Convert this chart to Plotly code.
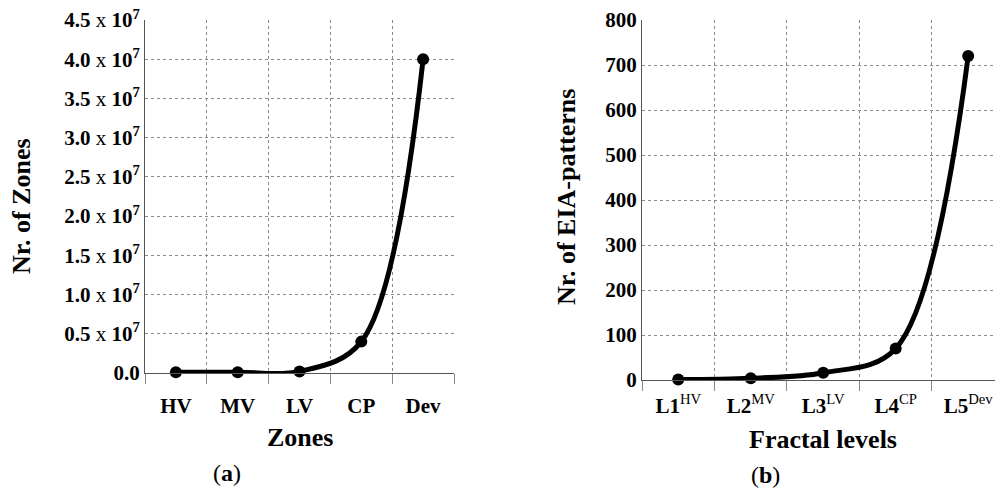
import plotly.graph_objects as go

# ---- data ----
zones = ["HV", "MV", "LV", "CP", "Dev"]
zones_counts = [1.0e5, 1.0e5, 2.0e5, 4.0e6, 4.0e7]

levels = ["L1", "L2", "L3", "L4", "L5"]
level_sups = ["HV", "MV", "LV", "CP", "Dev"]
eia_counts = [1, 4, 16, 70, 720]

left_tickvals = [0, 0.5e7, 1.0e7, 1.5e7, 2.0e7, 2.5e7, 3.0e7, 3.5e7, 4.0e7, 4.5e7]
left_ticktext = ["<b>0.0</b>"] + [
    "<b>%.1f</b> x <b>10<sup>7</sup></b>" % (v / 1e7) for v in left_tickvals[1:]
]
right_tickvals = [0, 100, 200, 300, 400, 500, 600, 700, 800]
right_ticktext = ["<b>%d</b>" % v for v in right_tickvals]

FONT = "Liberation Serif"
W, H = 995, 488

def px_x(x):
    return x / W

def px_y(y):
    return 1 - y / H

fig = go.Figure()

line_style = dict(color="black", width=5, shape="spline", smoothing=1)
marker_style = dict(color="black", size=12)

fig.add_trace(go.Scatter(x=zones, y=zones_counts, mode="lines+markers",
                         line=line_style, marker=marker_style,
                         cliponaxis=False, xaxis="x", yaxis="y",
                         showlegend=False))
fig.add_trace(go.Scatter(x=levels, y=eia_counts, mode="lines+markers",
                         line=line_style, marker=marker_style,
                         cliponaxis=False, xaxis="x2", yaxis="y2",
                         showlegend=False))

grid = dict(showgrid=True, gridcolor="#8a8a8a", griddash="dot", gridwidth=1)
xcommon = dict(type="category", tickson="boundaries", ticks="outside",
               ticklen=10, tickcolor="#8a8a8a", tickwidth=1,
               showline=True, linecolor="#555555", linewidth=1,
               zeroline=False, automargin=False,
               tickfont=dict(family=FONT, size=21, color="black"),
               **grid)
ycommon = dict(showline=True, linecolor="#555555", linewidth=1, ticks="",
               zeroline=False, automargin=False,
               tickfont=dict(family=FONT, size=21, color="black"),
               **grid)

fig.update_layout(
    width=W, height=H,
    margin=dict(l=0, r=0, t=0, b=0, autoexpand=False),
    paper_bgcolor="white", plot_bgcolor="white",
    font=dict(family=FONT, color="black"),
    xaxis=dict(domain=[px_x(145), px_x(454)], range=[-0.5, 4.5], anchor="y",
               ticktext=[f"<b>{z}</b>" for z in zones], tickvals=zones,
               ticklabelstandoff=14, **xcommon),
    yaxis=dict(domain=[px_y(373), px_y(20)], range=[0, 4.5e7], anchor="x",
               tickvals=left_tickvals, ticktext=left_ticktext, **ycommon),
    xaxis2=dict(domain=[px_x(642), 1.0], range=[-0.5, 4.37], anchor="y2",
                ticktext=[f"<b>{l}</b><sup>{s}</sup>" for l, s in zip(levels, level_sups)],
                tickvals=levels, ticklabelstandoff=7, **xcommon),
    yaxis2=dict(domain=[px_y(380), px_y(20)], range=[0, 800], anchor="x2",
                tickvals=right_tickvals, ticktext=right_ticktext, **ycommon),
)

ann = [
    dict(text="<b>Nr. of Zones</b>", x=px_x(21), y=px_y(206), textangle=-90, size=26),
    dict(text="<b>Zones</b>", x=px_x(300), y=px_y(437), textangle=0, size=26),
    dict(text="(<b>a</b>)", x=px_x(227), y=px_y(473), textangle=0, size=24),
    dict(text="<b>Nr. of EIA-patterns</b>", x=px_x(566), y=px_y(197), textangle=-90, size=26),
    dict(text="<b>Fractal levels</b>", x=px_x(823), y=px_y(439), textangle=0, size=26),
    dict(text="(<b>b</b>)", x=px_x(765), y=px_y(475), textangle=0, size=24),
]
for a in ann:
    fig.add_annotation(text=a["text"], x=a["x"], y=a["y"], xref="paper", yref="paper",
                       xanchor="center", yanchor="middle", textangle=a["textangle"],
                       showarrow=False, font=dict(family=FONT, size=a["size"], color="black"))

fig.write_html("out.html")
